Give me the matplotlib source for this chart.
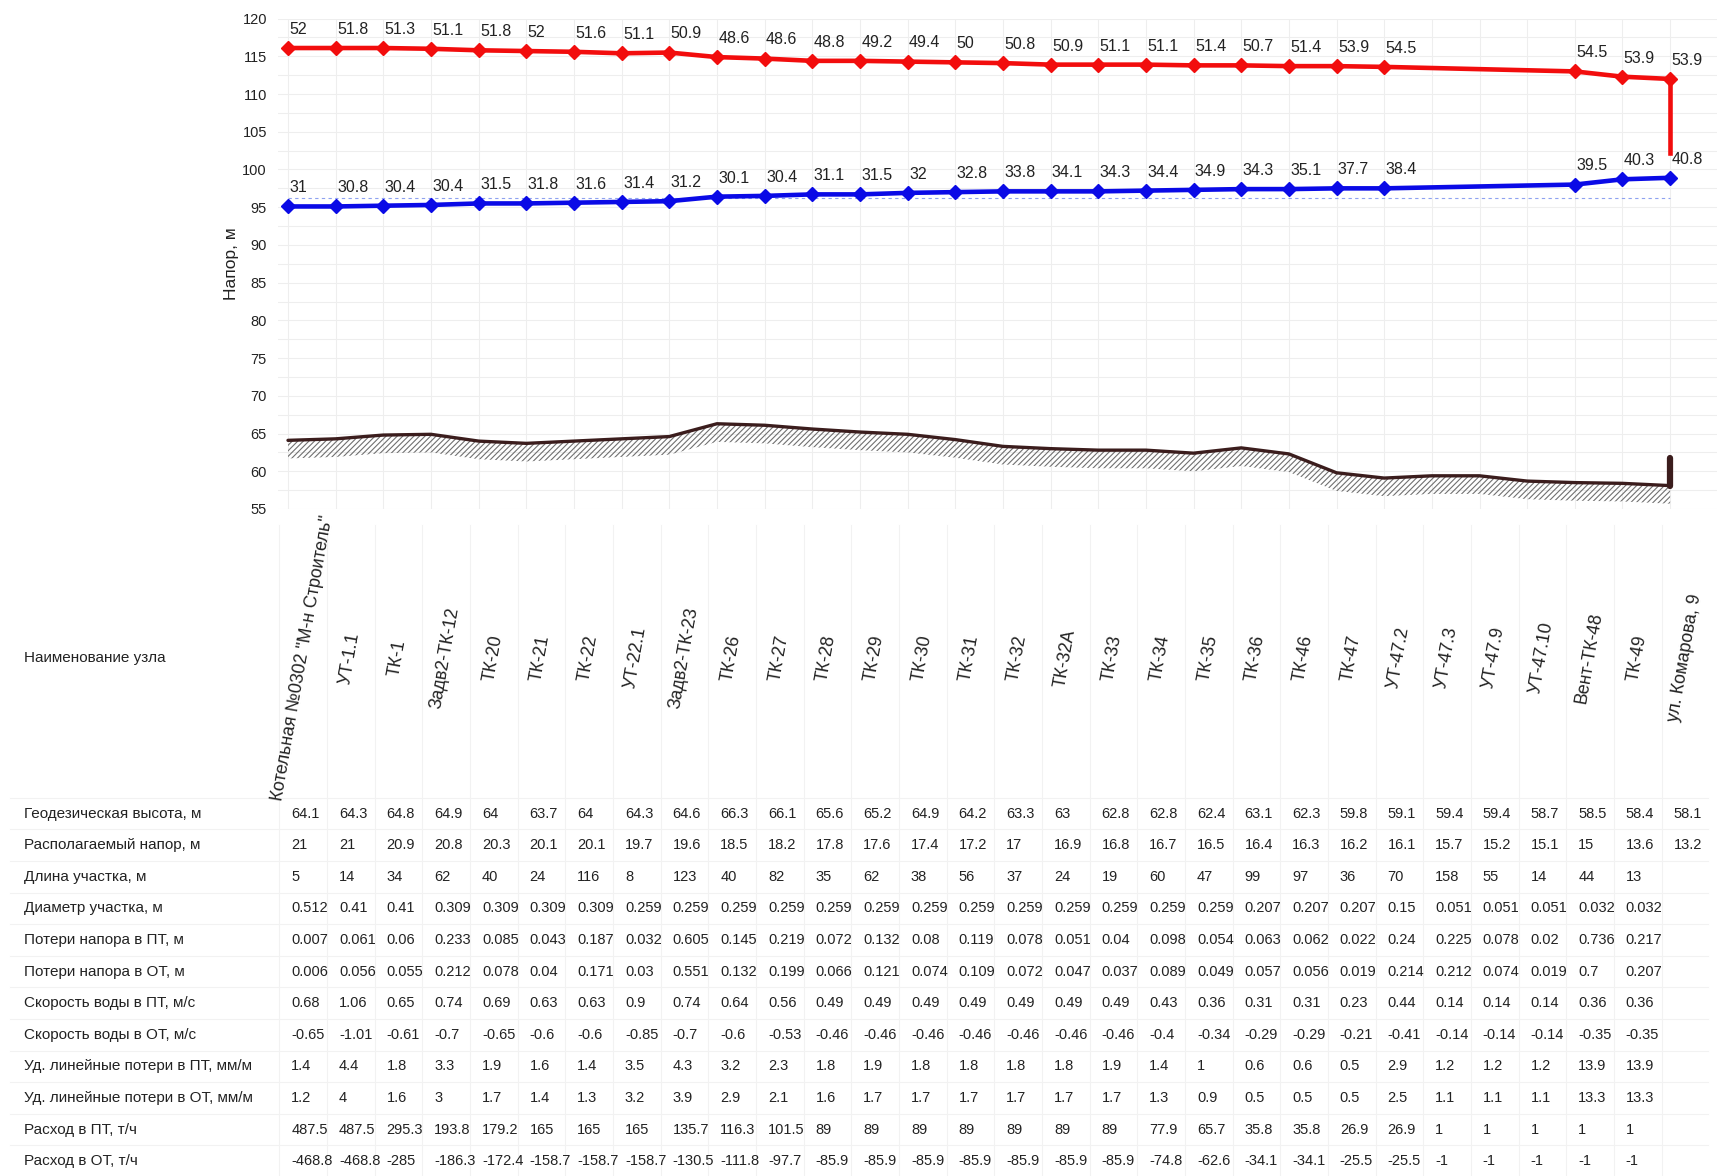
import numpy as np
import matplotlib.pyplot as plt
from matplotlib import font_manager as fm

# узлы трассы
nodes = ['Котельная №0302 "М-н Строитель"', 'УТ-1.1', 'ТК-1', 'Задв2-ТК-12', 'ТК-20',
         'ТК-21', 'ТК-22', 'УТ-22.1', 'Задв2-ТК-23', 'ТК-26', 'ТК-27', 'ТК-28', 'ТК-29',
         'ТК-30', 'ТК-31', 'ТК-32', 'ТК-32А', 'ТК-33', 'ТК-34', 'ТК-35', 'ТК-36', 'ТК-46',
         'ТК-47', 'УТ-47.2', 'УТ-47.3', 'УТ-47.9', 'УТ-47.10', 'Вент-ТК-48', 'ТК-49',
         'ул. Комарова, 9']

geo = [64.1, 64.3, 64.8, 64.9, 64, 63.7, 64, 64.3, 64.6, 66.3, 66.1, 65.6, 65.2, 64.9, 64.2,
       63.3, 63, 62.8, 62.8, 62.4, 63.1, 62.3, 59.8, 59.1, 59.4, 59.4, 58.7, 58.5, 58.4, 58.1]

# напор над землёй в подающем (ПТ) и обратном (ОТ) трубопроводах, None - нет точки
head_supply = [52, 51.8, 51.3, 51.1, 51.8, 52, 51.6, 51.1, 50.9, 48.6, 48.6, 48.8, 49.2, 49.4,
               50, 50.8, 50.9, 51.1, 51.1, 51.4, 50.7, 51.4, 53.9, 54.5, None, None, None,
               54.5, 53.9, 53.9]
head_return = [31, 30.8, 30.4, 30.4, 31.5, 31.8, 31.6, 31.4, 31.2, 30.1, 30.4, 31.1, 31.5, 32,
               32.8, 33.8, 34.1, 34.3, 34.4, 34.9, 34.3, 35.1, 37.7, 38.4, None, None, None,
               39.5, 40.3, 40.8]
supply_end = 102.2      # куда падает линия ПТ у потребителя
building_top = 61.7     # отметка у последнего узла
static_head = 96.2      # пунктир

avail = [21, 21, 20.9, 20.8, 20.3, 20.1, 20.1, 19.7, 19.6, 18.5, 18.2, 17.8, 17.6, 17.4, 17.2,
         17, 16.9, 16.8, 16.7, 16.5, 16.4, 16.3, 16.2, 16.1, 15.7, 15.2, 15.1, 15, 13.6, 13.2]
length = [5, 14, 34, 62, 40, 24, 116, 8, 123, 40, 82, 35, 62, 38, 56, 37, 24, 19, 60, 47, 99,
          97, 36, 70, 158, 55, 14, 44, 13]
diam = [0.512, 0.41, 0.41, 0.309, 0.309, 0.309, 0.309, 0.259, 0.259, 0.259, 0.259, 0.259,
        0.259, 0.259, 0.259, 0.259, 0.259, 0.259, 0.259, 0.259, 0.207, 0.207, 0.207, 0.15,
        0.051, 0.051, 0.051, 0.032, 0.032]
loss_s = [0.007, 0.061, 0.06, 0.233, 0.085, 0.043, 0.187, 0.032, 0.605, 0.145, 0.219, 0.072,
          0.132, 0.08, 0.119, 0.078, 0.051, 0.04, 0.098, 0.054, 0.063, 0.062, 0.022, 0.24,
          0.225, 0.078, 0.02, 0.736, 0.217]
loss_r = [0.006, 0.056, 0.055, 0.212, 0.078, 0.04, 0.171, 0.03, 0.551, 0.132, 0.199, 0.066,
          0.121, 0.074, 0.109, 0.072, 0.047, 0.037, 0.089, 0.049, 0.057, 0.056, 0.019, 0.214,
          0.212, 0.074, 0.019, 0.7, 0.207]
vel_s = [0.68, 1.06, 0.65, 0.74, 0.69, 0.63, 0.63, 0.9, 0.74, 0.64, 0.56, 0.49, 0.49, 0.49,
         0.49, 0.49, 0.49, 0.49, 0.43, 0.36, 0.31, 0.31, 0.23, 0.44, 0.14, 0.14, 0.14, 0.36, 0.36]
vel_r = [-0.65, -1.01, -0.61, -0.7, -0.65, -0.6, -0.6, -0.85, -0.7, -0.6, -0.53, -0.46, -0.46,
         -0.46, -0.46, -0.46, -0.46, -0.46, -0.4, -0.34, -0.29, -0.29, -0.21, -0.41, -0.14,
         -0.14, -0.14, -0.35, -0.35]
spec_s = [1.4, 4.4, 1.8, 3.3, 1.9, 1.6, 1.4, 3.5, 4.3, 3.2, 2.3, 1.8, 1.9, 1.8, 1.8, 1.8, 1.8,
          1.9, 1.4, 1, 0.6, 0.6, 0.5, 2.9, 1.2, 1.2, 1.2, 13.9, 13.9]
spec_r = [1.2, 4, 1.6, 3, 1.7, 1.4, 1.3, 3.2, 3.9, 2.9, 2.1, 1.6, 1.7, 1.7, 1.7, 1.7, 1.7, 1.7,
          1.3, 0.9, 0.5, 0.5, 0.5, 2.5, 1.1, 1.1, 1.1, 13.3, 13.3]
flow_s = [487.5, 487.5, 295.3, 193.8, 179.2, 165, 165, 165, 135.7, 116.3, 101.5, 89, 89, 89,
          89, 89, 89, 89, 77.9, 65.7, 35.8, 35.8, 26.9, 26.9, 1, 1, 1, 1, 1]
flow_r = [-468.8, -468.8, -285, -186.3, -172.4, -158.7, -158.7, -158.7, -130.5, -111.8, -97.7,
          -85.9, -85.9, -85.9, -85.9, -85.9, -85.9, -85.9, -74.8, -62.6, -34.1, -34.1, -25.5,
          -25.5, -1, -1, -1, -1, -1]

row_titles = ['Геодезическая высота, м', 'Располагаемый напор, м', 'Длина участка, м',
              'Диаметр участка, м', 'Потери напора в ПТ, м', 'Потери напора в ОТ, м',
              'Скорость воды в ПТ, м/с', 'Скорость воды в ОТ, м/с',
              'Уд. линейные потери в ПТ, мм/м', 'Уд. линейные потери в ОТ, мм/м',
              'Расход в ПТ, т/ч', 'Расход в ОТ, т/ч']
rows = [geo, avail, length, diam, loss_s, loss_r, vel_s, vel_r, spec_s, spec_r, flow_s, flow_r]

# шрифты
installed = {f.name for f in fm.fontManager.ttflist}
sans = 'Liberation Sans'
narrow = 'Liberation Sans Narrow' if 'Liberation Sans Narrow' in installed else sans
tab_size = 12.5 if narrow != sans else 10.5
title_size = 12.5 if narrow != sans else 11

# разметка в пикселях
W, H = 1717, 1176
x0_px, col_px = 288, 47.66     # первая колонка и шаг колонок
ax_left_px, ax_top_px, ax_bot_px = 278, 18.6, 509

x = np.arange(len(nodes))
geo_a = np.array(geo, dtype=float)
hs = np.array([np.nan if v is None else v for v in head_supply])
hr = np.array([np.nan if v is None else v for v in head_return])
ok = ~np.isnan(hs)
red_y = geo_a + hs
blue_y = geo_a + hr

plt.rcParams['font.family'] = sans
plt.rcParams['hatch.linewidth'] = 0.8

fig = plt.figure(figsize=(W / 100, H / 100), dpi=100)
ax = fig.add_axes([ax_left_px / W, 1 - ax_bot_px / H, 1 - ax_left_px / W,
                   (ax_bot_px - ax_top_px) / H])

# грунт со штриховкой
ax.fill_between(x, geo_a - 2.4, geo_a, facecolor='none', edgecolor='#707070',
                hatch='//////', linewidth=0)
ax.plot(x, geo_a, color='#3b1d1d', lw=2.4, solid_capstyle='round')
ax.plot([x[-1], x[-1]], [geo[-1], building_top], color='#3b1d1d', lw=4.5,
        solid_capstyle='round')

ax.plot([x[0], x[-1]], [static_head, static_head], color='#8ea2f0', lw=0.8, ls=(0, (3, 3)))

ax.plot(x[ok], red_y[ok], color='#f20d0d', lw=3.3, marker='D', ms=7.5)
ax.plot([x[-1], x[-1]], [red_y[-1], supply_end], color='#f20d0d', lw=3.3)
ax.plot(x[ok], blue_y[ok], color='#0a0ae6', lw=3.3, marker='D', ms=7.5)

for i in x[ok]:
    ax.annotate(f'{hs[i]:g}', (i, red_y[i]), xytext=(1, 8), textcoords='offset points',
                ha='left', va='bottom', fontsize=11.5, color='#222222', annotation_clip=False)
    ax.annotate(f'{hr[i]:g}', (i, blue_y[i]), xytext=(1, 8), textcoords='offset points',
                ha='left', va='bottom', fontsize=11.5, color='#222222', annotation_clip=False)

ax.set_xlim((ax_left_px - x0_px) / col_px, (W - x0_px) / col_px)
ax.set_ylim(55, 120)
ax.set_yticks(np.arange(55, 121, 5))
ax.set_yticks(np.arange(55, 120, 2.5), minor=True)
ax.set_xticks(x)
ax.set_xticklabels([])
ax.grid(True, which='both', color='#eeeeee', lw=0.8)
ax.set_axisbelow(True)
ax.tick_params(which='both', length=0, labelsize=10.5, pad=8, colors='#222222')
for s in ax.spines.values():
    s.set_visible(False)
ax.set_ylabel('Напор, м', fontsize=12.5, color='#222222')
ax.yaxis.set_label_coords((239 - ax_left_px) / (W - ax_left_px), 0.5)

# таблица под графиком: x как у графика, y в пикселях сверху
axt = fig.add_axes([0, 0, 1, 1 - 520 / H])
axt.set_xlim(-x0_px / col_px, (W - x0_px) / col_px)
axt.set_ylim(H, 520)
axt.axis('off')

name_y = 658
row_y0, row_step = 813.6, 31.6
label_x = (24 - x0_px) / col_px
row_ys = row_y0 + row_step * np.arange(len(rows))

for i in x:
    axt.plot([i - 0.18, i - 0.18], [525, H], color='#f2f2f2', lw=0.8)
for y in np.concatenate([[row_y0 - row_step / 2], row_ys + row_step / 2]):
    axt.plot([label_x - 0.3, x[-1] + 0.8], [y, y], color='#f2f2f2', lw=0.8)

axt.text(label_x, name_y, 'Наименование узла', fontsize=title_size, family=narrow,
         ha='left', va='center', color='#222222')
for i, name in enumerate(nodes):
    axt.text(i + 0.3, name_y, name, fontsize=12.8, rotation=80, rotation_mode='anchor',
             ha='center', va='center', color='#222222')

for title, vals, y in zip(row_titles, rows, row_ys):
    axt.text(label_x, y, title, fontsize=title_size, family=narrow, ha='left', va='center',
             color='#222222')
    for i, v in enumerate(vals):
        axt.text(i + 0.07, y, f'{v:g}', fontsize=tab_size, family=narrow, ha='left',
                 va='center', color='#222222')

fig.savefig('out.png', dpi=100)
